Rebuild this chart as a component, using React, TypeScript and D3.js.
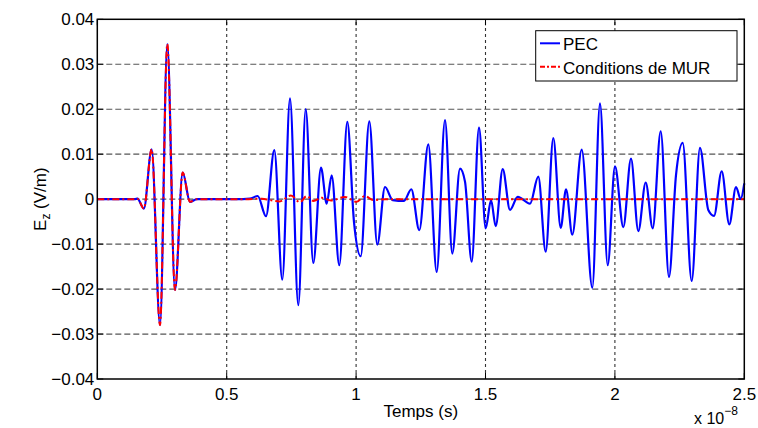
import React from "react";
import * as d3 from "d3";

// Time in units of 1e-8 s, field in V/m
const pecT = [0, 0.145, 0.155, 0.18, 0.21, 0.2423, 0.2705, 0.3002, 0.33, 0.3582, 0.385, 0.563, 0.59, 0.6198, 0.6519, 0.684, 0.7148, 0.7446, 0.7767, 0.8053, 0.8346, 0.8644, 0.8864, 0.9057, 0.9351, 0.966, 0.9919, 1.0178, 1.051, 1.0819, 1.1117, 1.1414, 1.1851, 1.2133, 1.2442, 1.279, 1.3114, 1.3435, 1.3717, 1.4015, 1.4208, 1.4467, 1.4749, 1.5008, 1.5213, 1.5394, 1.5665, 1.5947, 1.6244, 1.672, 1.704, 1.7326, 1.762, 1.7906, 1.8111, 1.8354, 1.8717, 1.9127, 1.9424, 1.9722, 2.0004, 2.0325, 2.0622, 2.0904, 2.119, 2.146, 2.177, 2.209, 2.236, 2.262, 2.2967, 2.3288, 2.3609, 2.383, 2.4127, 2.442, 2.468, 2.486, 2.5];
const pecV = [0, 0, 0.0001, -0.0021, 0.0111, -0.028, 0.0345, -0.0202, 0.0059, -0.0006, 0, 0, 0.0001, 0.0007, -0.0038, 0.0109, -0.0179, 0.0224, -0.0236, 0.02, -0.0142, 0.007, -0.001, 0.0053, -0.0147, 0.0172, -0.0051, -0.0127, 0.0173, -0.0101, 0.0027, -0.0002, -0.0004, 0.0022, -0.0069, 0.0122, -0.0162, 0.0176, -0.0121, 0.0068, 0.0039, -0.0139, 0.0159, -0.0065, -0.0002, -0.006, 0.0067, -0.0024, 0.0005, -0.001, 0.005, -0.0117, 0.0136, -0.0064, 0.0022, -0.0079, 0.011, -0.0197, 0.0213, -0.0147, 0.0073, -0.0062, 0.009, -0.0071, 0.0037, -0.0065, 0.0151, -0.0173, 0.0053, 0.0125, -0.0182, 0.0114, -0.0024, -0.0037, 0.0062, -0.0056, 0.0027, 0, 0.0035];

const murT = [0, 0.145, 0.155, 0.18, 0.21, 0.2423, 0.2705, 0.3002, 0.33, 0.3582, 0.385, 0.563, 0.636, 0.667, 0.705, 0.748, 0.783, 0.809, 0.835, 0.867, 0.903, 0.957, 1.002, 1.034, 1.066, 1.112, 2.5];
const murV = [0, 0, 0.0001, -0.0021, 0.0111, -0.028, 0.0345, -0.0202, 0.0059, -0.0006, 0, 0, 0.0001, -0.0002, -0.0005, 0.0008, -0.0007, 0.0007, -0.0004, 0.0003, -0.0003, 0.0005, -0.0006, 0.0007, -0.0002, 0, 0];

const xTicks = [0, 0.5, 1, 1.5, 2, 2.5];
const xTickLabels = ["0", "0.5", "1", "1.5", "2", "2.5"];
const yTicks = [-0.04, -0.03, -0.02, -0.01, 0, 0.01, 0.02, 0.03, 0.04];
const yTickLabels = ["\u22120.04", "\u22120.03", "\u22120.02", "\u22120.01", "0", "0.01", "0.02", "0.03", "0.04"];

const seriesNames = ["PEC", "Conditions de MUR"];

const FONT = "'Liberation Sans', Arial, Helvetica, sans-serif";

export default function App() {
  const W = 758, H = 428;
  const x0 = 97.3, x1 = 744.3, y0 = 379, y1 = 19.3;
  const x = d3.scaleLinear().domain([0, 2.5]).range([x0, x1]);
  const y = d3.scaleLinear().domain([-0.04, 0.04]).range([y0, y1]);
  const line = d3
    .line<[number, number]>()
    .x((d) => x(d[0]))
    .y((d) => y(d[1]))
    .curve(d3.curveMonotoneX);
  const pecPath = line(pecT.map((t, i) => [t, pecV[i]] as [number, number])) || "";
  const murPath = line(murT.map((t, i) => [t, murV[i]] as [number, number])) || "";

  const lx0 = 535.7, lx1 = 737, ly0 = 30.7, ly1 = 81;

  return (
    <div style={{ position: "absolute", left: 0, top: 0 }}>
      <svg width={W} height={H} style={{ display: "block", background: "#fff" }} fontFamily={FONT}>
        <rect x={0} y={0} width={W} height={H} fill="#fff" />
        {/* grid */}
        {yTicks.slice(1, -1).map((t) => (
          <line key={"gy" + t} x1={x0} x2={x1} y1={y(t)} y2={y(t)} stroke="#555" strokeWidth={1.2} strokeDasharray="6,3" />
        ))}
        {xTicks.slice(1, -1).map((t) => (
          <line key={"gx" + t} x1={x(t)} x2={x(t)} y1={y0} y2={y1} stroke="#333" strokeWidth={1.1} strokeDasharray="3,3" />
        ))}
        {/* ticks */}
        {yTicks.map((t) => (
          <g key={"ty" + t}>
            <line x1={x0} x2={x0 + 6} y1={y(t)} y2={y(t)} stroke="#000" />
            <line x1={x1} x2={x1 - 6} y1={y(t)} y2={y(t)} stroke="#000" />
          </g>
        ))}
        {xTicks.map((t) => (
          <g key={"tx" + t}>
            <line x1={x(t)} x2={x(t)} y1={y0} y2={y0 - 6} stroke="#000" />
            <line x1={x(t)} x2={x(t)} y1={y1} y2={y1 + 6} stroke="#000" />
          </g>
        ))}
        {/* data */}
        <path d={pecPath} fill="none" stroke="#0000ff" strokeWidth={2.2} strokeLinejoin="round" />
        <path d={murPath} fill="none" stroke="#ff0000" strokeWidth={2} strokeDasharray="7,3,2,3" />
        {/* box */}
        <rect x={x0} y={y1} width={x1 - x0} height={y0 - y1} fill="none" stroke="#000" strokeWidth={1.5} />
        {/* tick labels */}
        {yTicks.map((t, i) => (
          <text key={"yl" + t} x={x0 - 3} y={y(t) + 6} textAnchor="end" fontSize={17} fill="#000">
            {yTickLabels[i]}
          </text>
        ))}
        {xTicks.map((t, i) => (
          <text key={"xl" + t} x={x(t)} y={399.5} textAnchor="middle" fontSize={17} fill="#000">
            {xTickLabels[i]}
          </text>
        ))}
        {/* axis labels */}
        <text x={(x0 + x1) / 2} y={417} textAnchor="middle" fontSize={17} fill="#000">Temps (s)</text>
        <text x={694} y={423.5} fontSize={16} fill="#000">
          x 10
          <tspan dy={-9} fontSize={12}>{"\u22128"}</tspan>
        </text>
        <text transform={`translate(46,${(y0 + y1) / 2}) rotate(-90)`} textAnchor="middle" fontSize={17} fill="#000">
          E<tspan fontSize={12} dy={4}>z</tspan>
          <tspan dy={-4}>{" (V/m)"}</tspan>
        </text>
        {/* legend */}
        <rect x={lx0} y={ly0} width={lx1 - lx0} height={ly1 - ly0} fill="#fff" stroke="#000" strokeWidth={1} />
        <line x1={540} x2={560} y1={43.3} y2={43.3} stroke="#0000ff" strokeWidth={2} />
        <line x1={540} x2={560} y1={66.7} y2={66.7} stroke="#ff0000" strokeWidth={2} strokeDasharray="5,2,2,2" />
        <text x={563} y={50} fontSize={17} fill="#000">{seriesNames[0]}</text>
        <text x={563} y={73.5} fontSize={17} fill="#000">{seriesNames[1]}</text>
      </svg>
    </div>
  );
}
